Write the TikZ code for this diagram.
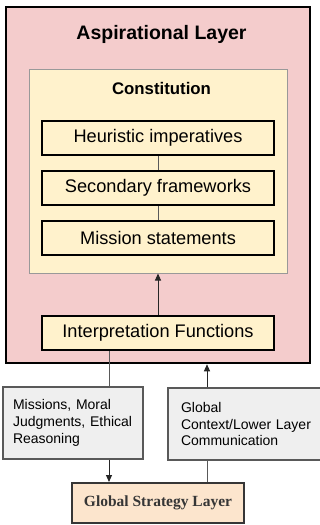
\documentclass[tikz,border=0pt]{standalone}
\usepackage{fontspec}
\setmainfont{Liberation Sans}
\newfontfamily\timesf{Liberation Serif}
\usetikzlibrary{arrows.meta}
\definecolor{pinkbg}{HTML}{F4CCCC}
\definecolor{yellowbg}{HTML}{FFF2CC}
\definecolor{graybg}{HTML}{EFEFEF}
\definecolor{peachbg}{HTML}{FCE5CD}
\definecolor{grayline}{HTML}{595959}
\definecolor{constline}{HTML}{999999}
\definecolor{gsltext}{HTML}{363636}
\begin{document}
\begin{tikzpicture}[x=1pt,y=-1pt,
  layerbox/.style={draw=black,line width=2.5pt,fill=pinkbg,minimum width=304pt,minimum height=356pt,inner sep=0pt},
  constbox/.style={draw=constline,line width=1pt,fill=yellowbg,minimum width=258pt,minimum height=204pt,inner sep=0pt},
  itembox/.style={draw=black,line width=2pt,fill=yellowbg,minimum width=232pt,minimum height=34pt,inner sep=0pt,font=\fontsize{18.2}{21}\selectfont},
  graybox/.style={draw=grayline,line width=1.3pt,fill=graybg,minimum height=72pt,inner ysep=0pt,align=left,font=\fontsize{14}{16.8}\selectfont},
  gslbox/.style={draw=gsltext,line width=2pt,fill=peachbg,minimum width=172pt,minimum height=40pt,inner sep=0pt,text=gsltext,font=\timesf\bfseries\fontsize{15.5}{18}\selectfont},
  conn/.style={draw=grayline,line width=1pt},
  arr/.style={draw=black!85,line width=1pt,-{Triangle[length=7pt,width=6pt]}}]
\useasboundingbox (0,0) rectangle (320,525);
\clip (0,0) rectangle (320,525);
\fill[white] (0,0) rectangle (320,525);
\node[layerbox] (outer) at (158,185) {};
\node[font=\bfseries\fontsize{19.5}{22}\selectfont] (title) at (161.5,34) {Aspirational Layer};
\node[constbox] (const) at (158,171) {};
\node[font=\bfseries\fontsize{16.8}{19}\selectfont] (ctitle) at (161.5,88) {Constitution};
\node[itembox] (h) at (158,138) {Heuristic imperatives};
\node[itembox] (s) at (158,188) {Secondary frameworks};
\node[itembox] (m) at (158,238) {Mission statements};
\node[itembox] (interp) at (158,333) {Interpretation Functions};
\node[graybox,inner xsep=10pt,text width=120pt] (leftbox) at (73,423) {Missions, Moral\\Judgments, Ethical\\Reasoning};
\node[graybox,inner xsep=13pt,text width=131pt] (rightbox) at (246.5,424) {Global\\Context/Lower Layer\\Communication};
\node[gslbox] (gsl) at (158,503) {Global Strategy Layer};
\draw[conn] (h) -- (s);
\draw[conn] (s) -- (m);
\draw[arr] (interp) -- (const);
\coordinate (p1) at ([xshift=-49pt]interp.south);
\draw[conn] (p1) -- (p1 |- leftbox.north);
\coordinate (p2) at ([xshift=-49pt]gsl.north);
\draw[arr] (p2 |- leftbox.south) -- (p2);
\coordinate (p3) at ([xshift=49pt]gsl.north);
\draw[conn] (p3) -- (p3 |- rightbox.south);
\draw[arr] (p3 |- rightbox.north) -- (p3 |- outer.south);
\end{tikzpicture}
\end{document}
